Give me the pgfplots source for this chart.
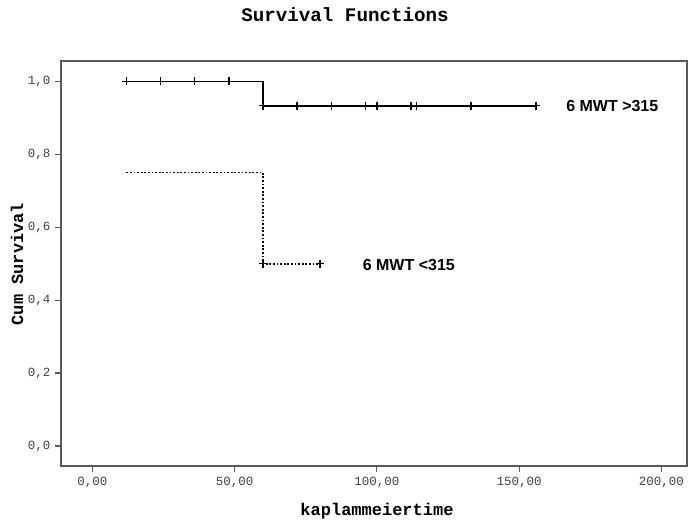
\documentclass[border=0pt]{standalone}
\usepackage{pgfplots}
\pgfplotsset{compat=1.18}
\usepackage{fontspec}
\setmainfont{Liberation Sans}
\newfontfamily\mono{Liberation Mono}
\begin{document}
\begin{tikzpicture}
\path[use as bounding box] (0,0) rectangle (690pt,527pt);
\begin{axis}[
    at={(61pt,61pt)}, anchor=south west,
    scale only axis,
    width=626pt, height=405pt,
    xmin=-11, xmax=209,
    ymin=-0.055, ymax=1.056,
    axis line style={draw=black!65, line width=1.4pt},
    tick align=outside,
    major tick length=6pt,
    xtick pos=bottom, ytick pos=left,
    tick style={draw=black!65, line width=1.2pt},
    xtick={0,50,100,150,200},
    xticklabels={{0,00},{50,00},{100,00},{150,00},{200,00}},
    ytick={0,0.2,0.4,0.6,0.8,1.0},
    yticklabels={{0,0},{0,2},{0,4},{0,6},{0,8},{1,0}},
    ticklabel style={font=\mono\fontsize{12.5}{13}\selectfont, text=black!75},
    xticklabel style={yshift=-2pt},
    yticklabel style={xshift=-1pt},
    clip=false,
  ]
% 6 MWT >315
\addplot[black, line width=1.7pt] coordinates {
  (12,1) (60,1) (60,0.9333) (156,0.9333)};
\addplot[only marks, mark=+, mark size=4pt, black, line width=1.5pt] coordinates {
  (12,1) (24,1) (36,1) (48,1)
  (60,0.9333) (72,0.9333) (84,0.9333) (96,0.9333) (100,0.9333)
  (112,0.9333) (114,0.9333) (133,0.9333) (156,0.9333)};
% 6 MWT <315
\addplot[black, line width=1.8pt, dash pattern=on 1.8pt off 1.8pt] coordinates {
  (12,0.75) (60,0.75) (60,0.5) (80,0.5)};
\addplot[only marks, mark=+, mark size=4pt, black, line width=1.3pt] coordinates {
  (60,0.5) (80,0.5)};
\node[anchor=west, font=\bfseries\fontsize{16}{16}\selectfont, inner sep=0pt] at (axis cs:166.5,0.933) {6 MWT >315};
\node[anchor=west, font=\bfseries\fontsize{16}{16}\selectfont, inner sep=0pt] at (axis cs:95,0.497) {6 MWT <315};
\end{axis}
\node[font=\mono\bfseries\fontsize{19.2}{20}\selectfont] at (345pt,512pt) {Survival Functions};
\node[font=\mono\bfseries\fontsize{17}{18}\selectfont] at (377pt,16pt) {kaplammeiertime};
\node[font=\mono\bfseries\fontsize{17}{18}\selectfont, rotate=90] at (17pt,263pt) {Cum Survival};
\end{tikzpicture}
\end{document}
